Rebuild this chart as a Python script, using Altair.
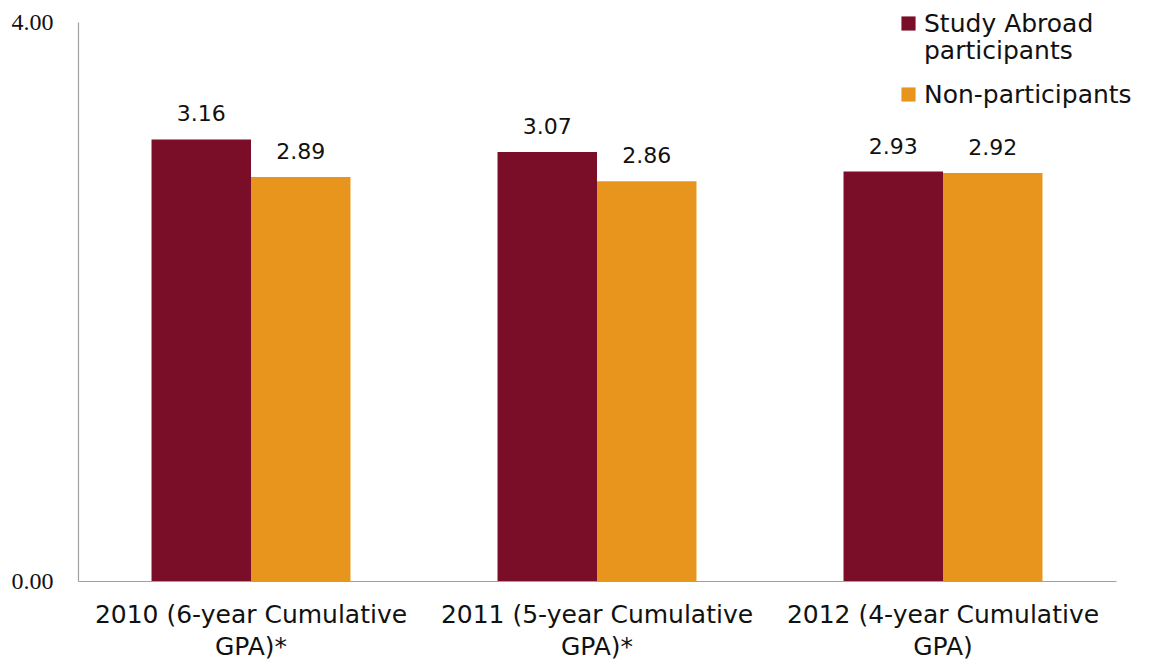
import altair as alt
import pandas as pd

categories = ["2010 (6-year Cumulative GPA)*", "2011 (5-year Cumulative GPA)*", "2012 (4-year Cumulative GPA)"]
series = ["Study Abroad participants", "Non-participants"]
participants = [3.16, 3.07, 2.93]
non_participants = [2.89, 2.86, 2.92]
colors = ["#7A0E29", "#E8951D"]

rows = []
for i, c in enumerate(categories):
    rows.append({"cat": c, "series": series[0], "value": participants[i]})
    rows.append({"cat": c, "series": series[1], "value": non_participants[i]})
df = pd.DataFrame(rows)

FONT = "DejaVu Sans"

base = alt.Chart(df).encode(
    x=alt.X("cat:N", sort=categories, title=None,
            scale=alt.Scale(paddingInner=0.425, paddingOuter=0.2125),
            axis=alt.Axis(labelAngle=0, labelFont=FONT, labelFontSize=25, labelColor="#111111",
                          labelExpr="[slice(datum.label,0,indexof(datum.label,' GPA')), slice(datum.label,indexof(datum.label,' GPA')+1)]",
                          labelLineHeight=32, labelPadding=21, ticks=False, domainColor="#a0a0a0",
                          domainWidth=1.2, labelLimit=500)),
    xOffset=alt.XOffset("series:N", sort=series, scale=alt.Scale(paddingInner=0, paddingOuter=0)),
    y=alt.Y("value:Q", title=None, scale=alt.Scale(domain=[0, 4]),
            axis=alt.Axis(values=[0, 4], format=".2f", labelFont="Liberation Serif", labelFontSize=24,
                          labelColor="#111111", ticks=False, grid=False, domainColor="#a0a0a0",
                          domainWidth=1.2, labelPadding=25)),
)

bars = base.mark_bar().encode(
    color=alt.Color("series:N", sort=series, scale=alt.Scale(domain=series, range=colors),
                    legend=alt.Legend(title=None, orient="none", legendX=818, legendY=-11,
                                      symbolType="square", symbolSize=200, symbolStrokeWidth=0,
                                      labelFont=FONT, labelFontSize=25, labelColor="#111111",
                                      labelLimit=400, rowPadding=18, symbolOffset=0,
                                      labelExpr="datum.label == 'Study Abroad participants' ? ['Study Abroad','participants'] : datum.label",
                                      labelBaseline="middle", labelOffset=3))
)

text = base.mark_text(baseline="alphabetic", dy=-18, font=FONT, fontSize=22, color="#111111").encode(
    text=alt.Text("value:Q", format=".2f")
)

chart = (bars + text).properties(
    width=1038, height=559,
    autosize=alt.AutoSizeParams(type="none"),
    padding={"left": 70, "top": 14, "right": 26, "bottom": 84},
).configure_view(stroke=None)

chart.save("out.html", embed_options={"renderer": "svg", "actions": False})
